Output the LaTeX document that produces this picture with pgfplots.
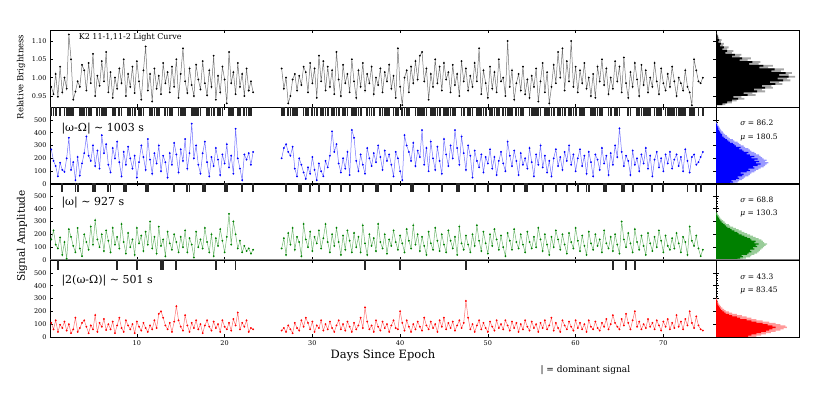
\documentclass[border=0pt]{standalone}
\usepackage{fontspec}
\setmainfont{DejaVu Serif}
\usepackage{pgfplots}
\usepackage{pgfplotstable}
\pgfplotsset{compat=1.18}

% t = day, b = relative brightness, a1 = |w-W|, a2 = |w|, a3 = |2(w-W)|, d = dominant signal
\pgfplotstableread{
t b a1 a2 a3 d
0.25 0.975 270 160 110 1
0.50 0.955 180 230 60 1
0.75 1.010 140 120 130 1
1.00 0.948 60 90 40 3
1.25 1.030 165 175 95 1
1.50 0.960 110 40 70 2
1.75 1.000 95 140 120 1
2.00 0.970 200 10 50 1
2.25 1.118 360 240 100 1
2.50 1.050 110 180 30 1
2.75 0.940 170 110 60 1
3.00 0.962 30 60 150 2
3.25 0.990 210 250 40 2
3.50 0.975 65 90 70 1
3.75 1.035 160 30 110 1
4.00 1.020 240 200 130 1
4.25 0.965 370 140 80 1
4.50 1.040 220 80 30 1
4.75 0.985 180 260 90 1
5.00 1.065 300 120 60 2
5.25 0.950 140 310 170 2
5.50 1.005 260 160 40 1
5.75 0.978 120 100 110 1
6.00 1.045 380 200 80 1
6.25 0.990 240 70 140 1
6.50 1.070 310 230 55 1
6.75 0.960 150 150 100 2
7.00 1.015 90 60 60 2
7.25 0.945 280 250 120 1
7.50 1.000 200 120 30 1
7.75 0.970 330 180 90 3
8.00 1.025 170 90 150 1
8.25 0.985 60 280 70 1
8.50 1.050 250 140 40 2
8.75 0.950 150 50 130 2
9.00 1.010 290 210 90 1
9.25 0.975 200 100 60 1
9.50 1.030 120 160 100 1
9.75 0.958 220 40 30 1
10.00 1.045 50 250 120 3
10.25 0.990 170 130 80 1
10.50 0.940 300 190 50 1
10.75 1.020 210 70 110 1
11.00 1.085 110 220 70 2
11.25 0.965 350 120 40 2
11.50 1.010 190 300 90 1
11.75 0.935 80 90 60 1
12.00 1.025 240 180 130 1
12.25 0.970 160 50 70 1
12.50 1.005 300 260 180 1
12.75 0.955 100 110 200 3
13.00 1.040 220 160 150 3
13.25 0.985 170 30 90 1
13.50 1.015 50 220 60 1
13.75 0.960 240 130 110 1
14.00 1.030 150 80 40 1
14.25 0.975 320 200 120 2
14.50 1.050 230 140 240 3
14.75 0.945 90 60 130 1
15.00 1.010 270 180 80 1
15.25 1.080 180 100 50 1
15.50 0.990 350 230 170 1
15.75 0.958 120 60 90 2
16.00 1.025 240 170 40 2
16.25 0.980 470 120 110 1
16.50 0.950 200 20 70 1
16.75 1.035 300 220 130 1
17.00 0.995 150 100 60 1
17.25 0.968 80 160 100 1
17.50 1.045 240 90 30 2
17.75 0.985 330 250 90 2
18.00 0.952 170 140 130 1
18.25 1.020 60 60 80 1
18.50 0.975 210 200 50 1
18.75 1.060 140 30 120 1
19.00 0.940 280 170 70 3
19.25 1.005 190 110 100 1
19.50 0.960 70 240 40 1
19.75 1.030 230 150 130 1
20.00 0.995 160 60 80 2
20.25 0.930 310 180 60 2
20.50 1.070 130 360 110 1
20.75 0.985 220 120 50 1
21.00 1.015 80 300 140 1
21.25 0.955 430 200 90 3
21.50 1.040 200 90 190 1
21.75 0.975 120 150 60 1
22.00 1.010 30 60 110 2
22.25 0.950 230 110 80 1
22.50 1.025 190 70 130 1
22.75 0.965 240 90 40 1
23.00 0.990 150 50 70 1
23.25 0.960 250 80 60 2
24.90 nan nan nan nan 0
26.50 1.025 200 90 50 1
26.75 0.970 280 170 70 1
27.00 1.000 310 40 40 2
27.25 0.930 250 210 90 1
27.50 0.950 220 120 60 1
27.75 0.995 290 250 30 1
28.00 1.010 120 80 110 1
28.25 0.965 60 180 70 1
28.50 1.005 200 140 50 2
28.75 0.980 150 30 130 2
29.00 1.030 90 280 80 1
29.25 1.015 40 160 150 1
29.50 0.960 130 100 110 1
29.75 1.040 80 220 60 2
30.00 0.985 210 70 120 1
30.25 1.025 110 180 40 1
30.50 0.945 30 130 90 1
30.75 1.060 160 230 70 2
31.00 0.990 100 90 130 1
31.25 1.045 60 170 50 1
31.50 0.965 180 280 100 1
31.75 1.030 130 140 60 1
32.00 0.975 220 60 120 2
32.25 1.020 410 200 70 1
32.50 0.955 250 110 40 1
32.75 1.070 310 250 90 1
33.00 0.995 160 140 130 1
33.25 0.950 90 40 60 2
33.50 1.035 200 190 100 1
33.75 0.985 120 80 50 1
34.00 1.010 250 230 120 1
34.25 0.960 70 150 80 2
34.50 1.050 420 60 40 1
34.75 0.990 360 210 110 1
35.00 0.945 180 100 60 1
35.25 1.020 100 180 90 1
35.50 0.975 230 60 150 1
35.75 1.040 150 270 70 2
36.00 0.965 80 130 230 3
36.25 1.010 280 40 120 1
36.50 0.985 200 200 60 1
36.75 1.030 140 110 90 1
37.00 0.955 240 170 40 1
37.25 1.000 170 70 130 2
37.50 0.980 300 280 80 2
37.75 1.025 210 140 50 1
38.00 0.960 110 90 120 1
38.25 1.015 260 200 70 1
38.50 0.990 180 50 100 1
38.75 1.035 230 160 40 1
39.00 0.970 150 110 90 2
39.25 1.005 60 230 130 1
39.50 0.945 250 140 70 1
39.75 1.080 200 80 60 1
40.00 0.975 100 190 200 3
40.25 0.925 30 130 110 1
40.50 1.000 380 60 50 1
40.75 1.020 300 240 130 1
41.00 0.960 250 150 80 1
41.25 1.030 180 90 40 2
41.50 0.985 320 270 100 2
41.75 1.045 140 120 60 1
42.00 0.995 260 200 120 1
42.25 1.060 210 70 80 1
42.50 1.070 420 180 50 1
42.75 0.990 150 110 150 1
43.00 1.025 280 40 90 1
43.25 0.940 100 220 60 2
43.50 1.010 330 130 120 1
43.75 0.975 200 80 70 1
44.00 1.050 110 250 100 1
44.25 0.985 290 150 40 1
44.50 1.030 180 70 130 1
44.75 0.965 80 200 80 2
45.00 1.040 350 120 150 1
45.25 0.995 230 60 60 1
45.50 1.015 140 230 110 1
45.75 0.960 300 150 70 1
46.00 1.035 200 90 120 1
46.25 0.980 420 180 50 1
46.50 1.010 280 40 90 2
46.75 0.950 150 260 130 2
47.00 1.045 370 130 70 1
47.25 0.990 240 80 110 1
47.50 1.025 110 190 280 3
47.75 0.965 300 120 150 1
48.00 1.005 220 60 60 1
48.25 0.975 50 200 100 1
48.50 1.040 260 110 40 2
48.75 0.990 180 270 90 1
49.00 1.080 130 150 130 1
49.25 0.955 230 70 60 1
49.50 1.020 90 220 110 1
49.75 0.985 210 130 70 1
50.00 0.945 160 50 40 2
50.25 1.030 270 200 120 1
50.50 0.970 120 110 80 1
50.75 1.015 210 240 50 1
51.00 0.960 70 160 130 1
51.25 1.050 180 80 70 1
51.50 0.990 250 190 100 2
51.75 1.000 160 100 60 1
52.00 0.950 100 30 130 1
52.25 1.100 330 210 90 1
52.50 0.975 220 150 50 1
52.75 1.020 140 80 120 1
53.00 0.940 260 240 70 2
53.25 0.985 180 140 110 1
53.50 1.010 70 90 40 1
53.75 0.965 240 200 100 1
54.00 1.030 150 120 60 1
54.25 0.955 200 60 130 2
54.50 0.995 120 220 80 2
54.75 0.945 280 140 50 1
55.00 1.005 170 90 120 1
55.25 0.975 60 180 70 1
55.50 1.025 230 100 100 1
55.75 0.935 150 250 40 1
56.00 0.990 300 160 110 1
56.25 1.040 130 70 70 2
56.50 0.960 220 200 130 1
56.75 1.015 90 120 60 1
57.00 0.930 180 40 90 1
57.25 0.975 60 180 150 1
57.50 1.035 200 100 50 1
57.75 0.985 270 230 110 2
58.00 1.070 140 160 70 1
58.25 1.000 210 80 40 1
58.50 1.080 110 200 130 1
58.75 0.965 250 120 90 1
59.00 1.045 180 50 60 2
59.25 0.990 300 210 120 1
59.50 1.100 150 140 80 1
59.75 0.975 230 90 50 1
60.00 1.030 100 250 130 1
60.25 0.960 200 150 70 2
60.50 1.020 270 70 110 1
60.75 0.985 140 190 60 1
61.00 1.040 220 110 100 1
61.25 0.970 80 40 40 2
61.50 1.000 250 220 130 2
61.75 0.950 170 130 80 1
62.00 1.010 60 80 60 1
62.25 0.945 230 200 120 1
62.50 1.030 190 110 70 1
62.75 0.990 110 160 50 1
63.00 1.050 280 60 110 1
63.25 0.980 160 230 80 2
63.50 1.025 220 130 140 2
63.75 0.955 70 90 60 1
64.00 1.000 240 180 100 1
64.25 0.970 150 70 170 3
64.50 1.045 300 200 110 1
64.75 0.990 210 120 80 1
65.00 1.030 434 50 60 1
65.25 0.960 250 300 140 2
65.50 1.055 140 160 90 2
65.75 0.985 220 100 180 3
66.00 0.945 180 210 110 1
66.25 1.015 70 130 60 1
66.50 0.975 260 60 130 2
66.75 1.040 150 240 200 3
67.00 0.995 200 140 80 1
67.25 0.950 100 80 120 1
67.50 1.035 230 190 60 1
67.75 0.980 160 110 100 1
68.00 1.020 280 40 70 1
68.25 0.960 120 210 140 1
68.50 1.000 220 130 80 1
68.75 0.975 60 70 110 2
69.00 1.040 190 180 60 1
69.25 0.990 250 100 130 1
69.50 0.955 130 230 90 1
69.75 1.025 200 150 50 1
70.00 0.985 100 60 120 2
70.25 0.965 230 190 80 1
70.50 1.010 160 110 140 1
70.75 0.975 250 80 60 1
71.00 1.030 120 170 110 1
71.25 0.990 190 90 70 1
71.50 0.950 230 210 170 1
71.75 1.000 140 130 80 1
72.00 0.985 210 60 120 1
72.25 0.965 100 180 60 1
72.50 1.020 270 140 140 1
72.75 0.975 180 40 90 2
73.00 0.960 90 260 200 1
73.25 0.925 210 150 110 1
73.50 1.050 230 110 70 1
73.75 1.020 150 190 160 2
74.00 0.990 170 90 90 1
74.25 0.985 210 30 60 2
74.50 1.000 250 80 50 1
}\lc

\definecolor{mgreen}{RGB}{0,128,0}

\pgfplotsset{
  panel/.style={
    scale only axis, width=666pt, height=77pt,
    xmin=0.1, xmax=76, xtick={10,20,...,70}, xticklabels={},
    tick align=inside, major tick length=3pt, minor tick length=1.5pt,
    tick style={black, line width=0.5pt},
    axis line style={line width=0.7pt},
    every tick label/.append style={font=\fontsize{6.5}{7}\selectfont},
    /pgf/number format/assume math mode=true,
    unbounded coords=jump,
  },
  amp/.style={panel, ymin=0, ymax=600, ytick={0,100,...,500}},
  hpanel/.style={
    scale only axis, width=83pt, height=77pt,
    xmin=0, xtick=\empty, yticklabels={}, ytick pos=left,
    minor y tick num=4, tick align=inside,
    major tick length=3pt, minor tick length=1.5pt,
    tick style={black, line width=0.5pt},
    axis line style={line width=0.7pt},
  },
  series/.style={#1!55, line width=0.5pt, mark=*, mark size=0.65pt,
    mark options={draw=#1, fill=#1, solid}},
  bars/.style={only marks, mark=|, mark size=#1,
    mark options={line width=1.8pt, black!85}},
}
\tikzset{stat/.style={anchor=west, font=\fontsize{7.5}{9}\selectfont}}

\begin{document}
\begin{tikzpicture}
\useasboundingbox (0,0) rectangle (830pt,394pt);

% ---- panel 1: light curve
\begin{axis}[panel, at={(50pt,364pt)}, anchor=north west,
  ymin=0.92, ymax=1.13, ytick={0.95,1.00,1.05,1.10},
  yticklabel style={/pgf/number format/.cd, fixed, fixed zerofill, precision=2}]
\addplot[series=black] table[x=t, y=b]{\lc};
\node[anchor=west, font=\fontsize{8}{9}\selectfont] at (rel axis cs:0.038,0.9) {K2 11-1,11-2 Light Curve};
\end{axis}
\begin{axis}[hpanel, at={(716pt,364pt)}, anchor=north west,
  ymin=0.92, ymax=1.13, ytick={0.95,1.00,1.05,1.10}, xmax=105]
\addplot[xbar interval, fill=black!35, draw=none] coordinates {
(12,0.925)(20,0.930)(26,0.935)(36,0.940)(32,0.945)(50,0.950)(46,0.955)(62,0.960)
(58,0.965)(72,0.970)(70,0.975)(84,0.980)(80,0.985)(94,0.990)(90,0.995)(100,1.000)
(92,1.005)(96,1.010)(82,1.015)(86,1.020)(66,1.025)(72,1.030)(54,1.035)(56,1.040)
(40,1.045)(44,1.050)(30,1.055)(32,1.060)(20,1.065)(22,1.070)(14,1.075)(16,1.080)
(9,1.085)(10,1.090)(6,1.095)(7,1.100)(4,1.105)(3,1.110)(2,1.115)(0,1.120)};
\addplot[xbar interval, fill=black, draw=none] coordinates {
(8,0.925)(14,0.930)(20,0.935)(28,0.940)(22,0.945)(40,0.950)(35,0.955)(52,0.960)
(48,0.965)(62,0.970)(58,0.975)(75,0.980)(68,0.985)(85,0.990)(78,0.995)(92,1.000)
(80,1.005)(88,1.010)(70,1.015)(74,1.020)(55,1.025)(60,1.030)(42,1.035)(46,1.040)
(30,1.045)(33,1.050)(20,1.055)(24,1.060)(12,1.065)(14,1.070)(8,1.075)(10,1.080)
(5,1.085)(6,1.090)(3,1.095)(4,1.100)(2,1.105)(2,1.110)(1,1.115)(0,1.120)};
\end{axis}

% ---- panel 2: |w-W|
\begin{axis}[amp, at={(50pt,287pt)}, anchor=north west]
\addplot[bars=4.5pt, restrict expr to domain={\thisrow{d}}{0.5:1.5}] table[x=t, y expr=564]{\lc};
\addplot[series=blue] table[x=t, y=a1]{\lc};
\node[anchor=west, font=\fontsize{11}{13}\selectfont] at (rel axis cs:0.012,0.72) {|ω-Ω| \textasciitilde{} 1003 s};
\draw[gray, line width=1.3pt] (rel axis cs:0,0) -- (rel axis cs:1,0);
\end{axis}
\begin{axis}[hpanel, at={(716pt,287pt)}, anchor=north west,
  ymin=0, ymax=600, ytick={0,100,...,500}, xmax=108]
\addplot[xbar interval, fill=blue!40, draw=none] coordinates {
(24,0)(28,10)(30,20)(34,30)(36,40)(38,50)(42,60)(44,70)(46,80)(50,90)
(52,100)(55,110)(58,120)(62,130)(64,140)(66,150)(68,160)(64,170)(66,180)(62,190)
(60,200)(58,210)(56,220)(52,230)(50,240)(46,250)(44,260)(42,270)(38,280)(36,290)
(32,300)(30,310)(28,320)(24,330)(22,340)(18,350)(16,360)(14,370)(12,380)(10,390)
(9,400)(7,410)(6,420)(5,430)(4,440)(3,450)(2,460)(1,470)(0,480)};
\addplot[xbar interval, fill=blue, draw=none] coordinates {
(18,0)(22,10)(20,20)(26,30)(30,40)(28,50)(34,60)(36,70)(32,80)(40,90)
(44,100)(42,110)(50,120)(48,130)(54,140)(58,150)(52,160)(56,170)(50,180)(54,190)
(46,200)(50,210)(44,220)(40,230)(42,240)(36,250)(34,260)(30,270)(32,280)(26,290)
(24,300)(22,310)(18,320)(16,330)(14,340)(12,350)(10,360)(8,370)(8,380)(6,390)
(5,400)(4,410)(3,420)(3,430)(2,440)(1,450)(1,460)(0,470)(0,480)};
\node[stat] at (rel axis cs:0.25,0.79) {\textit{σ} = 86.2};
\node[stat] at (rel axis cs:0.25,0.60) {\textit{μ} = 180.5};
\draw[gray, line width=1.3pt] (rel axis cs:0,0) -- (rel axis cs:1,0);
\end{axis}

% ---- panel 3: |w|
\begin{axis}[amp, at={(50pt,211pt)}, anchor=north west]
\addplot[bars=4.5pt, restrict expr to domain={\thisrow{d}}{1.5:2.5}] table[x=t, y expr=564]{\lc};
\addplot[series=mgreen] table[x=t, y=a2]{\lc};
\node[anchor=west, font=\fontsize{11}{13}\selectfont] at (rel axis cs:0.012,0.74) {|ω| \textasciitilde{} 927 s};
\draw[gray, line width=1.3pt] (rel axis cs:0,0) -- (rel axis cs:1,0);
\end{axis}
\begin{axis}[hpanel, at={(716pt,211pt)}, anchor=north west,
  ymin=0, ymax=600, ytick={0,100,...,500}, xmax=117]
\addplot[xbar interval, fill=mgreen!40, draw=none] coordinates {
(38,0)(42,10)(48,20)(50,30)(54,40)(58,50)(60,60)(62,70)(64,80)(66,90)
(68,100)(70,110)(72,120)(68,130)(66,140)(64,150)(60,160)(56,170)(52,180)(48,190)
(44,200)(40,210)(36,220)(32,230)(28,240)(24,250)(20,260)(18,270)(14,280)(12,290)
(10,300)(8,310)(6,320)(5,330)(4,340)(3,350)(2,360)(0,370)};
\addplot[xbar interval, fill=mgreen, draw=none] coordinates {
(30,0)(34,10)(38,20)(36,30)(44,40)(46,50)(50,60)(48,70)(54,80)(52,90)
(58,100)(56,110)(60,120)(54,130)(56,140)(50,150)(48,160)(44,170)(40,180)(36,190)
(32,200)(30,210)(26,220)(22,230)(20,240)(16,250)(14,260)(12,270)(10,280)(8,290)
(6,300)(5,310)(4,320)(3,330)(2,340)(1,350)(1,360)(0,370)};
\node[stat] at (rel axis cs:0.25,0.78) {\textit{σ} = 68.8};
\node[stat] at (rel axis cs:0.25,0.61) {\textit{μ} = 130.3};
\draw[gray, line width=1.3pt] (rel axis cs:0,0) -- (rel axis cs:1,0);
\end{axis}

% ---- panel 4: |2(w-W)|
\begin{axis}[amp, at={(50pt,134pt)}, anchor=north west,
  xticklabels={10,20,30,40,50,60,70}]
\addplot[bars=5pt, restrict expr to domain={\thisrow{d}}{2.5:3.5}] table[x=t, y expr=561]{\lc};
\addplot[series=red] table[x=t, y=a3]{\lc};
\node[anchor=west, font=\fontsize{11}{13}\selectfont] at (rel axis cs:0.012,0.73) {|2(ω-Ω)| \textasciitilde{} 501 s};
\end{axis}
\begin{axis}[hpanel, at={(716pt,134pt)}, anchor=north west,
  ymin=0, ymax=600, ytick={0,100,...,500}, xmax=103]
\addplot[xbar interval, fill=red!40, draw=none] coordinates {
(50,0)(56,10)(62,20)(68,30)(74,40)(80,50)(84,60)(88,70)(86,80)(80,90)
(74,100)(66,110)(58,120)(50,130)(44,140)(38,150)(32,160)(26,170)(20,180)(16,190)
(12,200)(10,210)(8,220)(6,230)(5,240)(4,250)(3,260)(2,270)(2,280)(1,290)(0,300)};
\addplot[xbar interval, fill=red, draw=none] coordinates {
(40,0)(44,10)(50,20)(56,30)(62,40)(66,50)(70,60)(74,70)(70,80)(64,90)
(58,100)(50,110)(44,120)(38,130)(30,140)(26,150)(20,160)(16,170)(12,180)(10,190)
(8,200)(6,210)(5,220)(4,230)(3,240)(2,250)(2,260)(1,270)(1,280)(0,290)(0,300)};
\node[stat] at (rel axis cs:0.25,0.78) {\textit{σ} = 43.3};
\node[stat] at (rel axis cs:0.25,0.61) {\textit{μ} = 83.45};
\end{axis}

% ---- labels
\node[rotate=90, font=\fontsize{8.5}{10}\selectfont] at (21pt,317pt) {Relative Brightness};
\node[rotate=90, font=\fontsize{10.5}{12}\selectfont] at (22pt,158pt) {Signal Amplitude};
\node[font=\fontsize{11.5}{13}\selectfont] at (383pt,39pt) {Days Since Epoch};
\node[anchor=west, font=\fontsize{9}{11}\selectfont] at (537pt,24pt) {| = dominant signal};
\end{tikzpicture}
\end{document}
